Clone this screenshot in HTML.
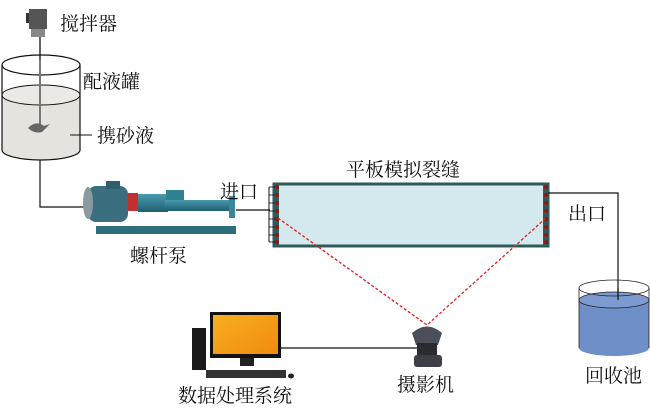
<!DOCTYPE html>
<html><head><meta charset="utf-8"><style>
body{margin:0;background:#fff;}
svg text{font-family:"Liberation Serif","Noto Serif CJK SC",serif;font-size:19px;fill:#111;}
</style></head><body>
<svg width="650" height="409" viewBox="0 0 650 409" xmlns="http://www.w3.org/2000/svg">
<defs>
<linearGradient id="mon" x1="0" y1="0" x2="1" y2="1"><stop offset="0" stop-color="#f7b020"/><stop offset="1" stop-color="#f08a10"/></linearGradient>
<linearGradient id="pump" x1="0" y1="0" x2="0" y2="1"><stop offset="0" stop-color="#4a9ab0"/><stop offset="1" stop-color="#1f5f70"/></linearGradient>
</defs>
<!-- stirrer -->
<rect x="29" y="9" width="18" height="20" fill="#555"/>
<rect x="26" y="13" width="3" height="10" fill="#333"/>
<rect x="31" y="29" width="14" height="8" fill="#888"/>
<line x1="40" y1="37" x2="40" y2="128" stroke="#666" stroke-width="2"/>
<text x="60" y="30">搅拌器</text>
<!-- tank -->
<path d="M2,95 L2,150 A39,10 0 0 0 80,150 L80,95 Z" fill="#e6e2de"/>
<ellipse cx="41" cy="95" rx="39" ry="10" fill="#ece8e4" stroke="#111" stroke-width="1"/>
<ellipse cx="41" cy="65" rx="39" ry="10" fill="none" stroke="#111" stroke-width="1.2"/>
<line x1="2" y1="65" x2="2" y2="150" stroke="#111" stroke-width="1.2"/>
<line x1="80" y1="65" x2="80" y2="150" stroke="#111" stroke-width="1.2"/>
<path d="M2,150 A39,10 0 0 0 80,150" fill="none" stroke="#111" stroke-width="1.2"/>
<line x1="40" y1="60" x2="40" y2="128" stroke="#777" stroke-width="2"/>
<path d="M28,128 Q36,120 44,126 L50,124 L42,132 Q34,134 28,128Z" fill="#666"/>
<text x="83" y="88">配液罐</text>
<line x1="70" y1="135" x2="92" y2="135" stroke="#111"/>
<text x="97" y="142">携砂液</text>
<!-- pipe to pump -->
<polyline points="40,160 40,207 86,207" fill="none" stroke="#111" stroke-width="1.2"/>
<!-- pump -->
<rect x="96" y="226" width="140" height="8" fill="#2d6d7c"/>
<rect x="88" y="186" width="40" height="36" rx="8" fill="#3b6f80"/>
<ellipse cx="88" cy="203" rx="5" ry="16" fill="#8a9aa0"/>
<rect x="106" y="181" width="14" height="8" fill="#2f5f6f"/>
<rect x="128" y="193" width="10" height="18" fill="#c03030"/>
<rect x="138" y="194" width="30" height="18" fill="url(#pump)"/>
<rect x="166" y="190" width="18" height="10" fill="#2f8090"/>
<rect x="165" y="200" width="65" height="11" fill="url(#pump)"/>
<rect x="229" y="196" width="6" height="22" fill="#3a8799"/>
<line x1="236" y1="210" x2="270" y2="210" stroke="#111" stroke-width="1.2"/>
<text x="130" y="262">螺杆泵</text>
<text x="220" y="198">进口</text>
<!-- slit -->
<text x="346" y="176">平板模拟裂缝</text>
<rect x="274" y="184" width="274" height="62" fill="#d4e9ee" stroke="#2f5a5a" stroke-width="3"/>
<rect x="274" y="184" width="5" height="62" fill="#2f5a5a"/>
<rect x="543" y="184" width="5" height="62" fill="#2f5a5a"/>
<line x1="269" y1="187" x2="269" y2="242" stroke="#111"/>
<g fill="#a01010">
<circle cx="277" cy="187" r="2"/><circle cx="277" cy="195" r="2"/><circle cx="277" cy="203" r="2"/><circle cx="277" cy="211" r="2"/><circle cx="277" cy="219" r="2"/><circle cx="277" cy="227" r="2"/><circle cx="277" cy="235" r="2"/><circle cx="277" cy="242" r="2"/>
<circle cx="546" cy="187" r="2"/><circle cx="546" cy="195" r="2"/><circle cx="546" cy="203" r="2"/><circle cx="546" cy="211" r="2"/><circle cx="546" cy="219" r="2"/><circle cx="546" cy="227" r="2"/><circle cx="546" cy="235" r="2"/><circle cx="546" cy="242" r="2"/>
</g>
<g stroke="#111" stroke-width="0.8">
<line x1="269" y1="187" x2="275" y2="187"/><line x1="269" y1="195" x2="275" y2="195"/><line x1="269" y1="203" x2="275" y2="203"/><line x1="269" y1="211" x2="275" y2="211"/><line x1="269" y1="219" x2="275" y2="219"/><line x1="269" y1="227" x2="275" y2="227"/><line x1="269" y1="235" x2="275" y2="235"/><line x1="269" y1="242" x2="275" y2="242"/>
</g>
<polyline points="548,193 618,193 618,298" fill="none" stroke="#111" stroke-width="1.2"/>
<text x="568" y="220">出口</text>
<!-- red dashed -->
<polyline points="278,218 427,325 546,218" fill="none" stroke="#e02020" stroke-width="1.3" stroke-dasharray="3,2"/>
<!-- recovery tank -->
<path d="M579,300 L579,348 A35,8 0 0 0 649,348 L649,300 Z" fill="#6f8fc8"/>
<ellipse cx="614" cy="300" rx="35" ry="8" fill="#7d9bd0" stroke="#222" stroke-width="0.8"/>
<ellipse cx="614" cy="288" rx="35" ry="8" fill="none" stroke="#222" stroke-width="0.8"/>
<line x1="579" y1="288" x2="579" y2="348" stroke="#222" stroke-width="0.8"/>
<line x1="649" y1="288" x2="649" y2="348" stroke="#222" stroke-width="0.8"/>
<line x1="618" y1="288" x2="618" y2="300" stroke="#111" stroke-width="1.2"/>
<text x="585" y="382">回收池</text>
<!-- camera -->
<path d="M412,333 Q427,320 442,333 L438,345 L416,345 Z" fill="#4a4f5a"/>
<rect x="417" y="343" width="20" height="14" fill="#2a2a30"/>
<rect x="414" y="355" width="28" height="12" rx="3" fill="#3c3f48"/>
<text x="397" y="391">摄影机</text>
<!-- computer -->
<line x1="280" y1="348" x2="417" y2="348" stroke="#111" stroke-width="1.2"/>
<rect x="192" y="328" width="14" height="42" fill="#1a1a1a"/>
<rect x="210" y="312" width="71" height="46" fill="#111"/>
<rect x="213" y="315" width="65" height="39" fill="url(#mon)"/>
<rect x="240" y="358" width="14" height="8" fill="#222"/>
<rect x="206" y="370" width="80" height="8" fill="#333"/>
<ellipse cx="291" cy="376" rx="3" ry="2.5" fill="#222"/>
<text x="178" y="402">数据处理系统</text>
</svg>
</body></html>
